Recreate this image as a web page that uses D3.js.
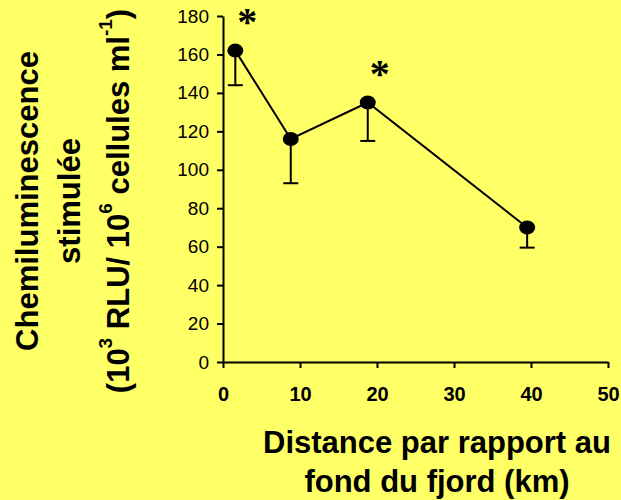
<!DOCTYPE html>
<html>
<head>
<meta charset="utf-8">
<script src="https://cdn.jsdelivr.net/npm/d3@7/dist/d3.min.js"></script>
<style>
  html, body { margin: 0; padding: 0; background: #FFFF66; }
  svg { display: block; }
  text { font-family: Arial, "Liberation Sans", sans-serif; fill: #000; }
</style>
</head>
<body>
<svg id="chart" width="621" height="500"></svg>
<script>
// ---- data ----
const distances = [1.6, 8.8, 18.8, 39.5];          // km
const values = [162, 116, 135, 70];                 // 10^3 RLU / 10^6 cellules ml^-1
const errors = [18, 23, 20, 10.5];                  // lower error bar
const significant = ["*", "", "*", ""];
const xTicks = [0, 10, 20, 30, 40, 50];
const yTicks = [0, 20, 40, 60, 80, 100, 120, 140, 160, 180];
const xTitleLines = ["Distance par rapport au", "fond du fjord (km)"];

const data = distances.map((d, i) => ({ x: d, y: values[i], e: errors[i], s: significant[i] }));

const svg = d3.select("#chart");
svg.append("rect").attr("width", 621).attr("height", 500).attr("fill", "#FFFF66");

const x = d3.scaleLinear().domain([0, 50]).range([223, 608]);
const y = d3.scaleLinear().domain([0, 180]).range([362, 16]);

// y axis
const yAxis = svg.append("g")
  .attr("transform", `translate(${x(0)},0)`)
  .call(d3.axisLeft(y).tickValues(yTicks).tickSize(6).tickPadding(8).tickSizeOuter(0));
yAxis.select(".domain").attr("stroke", "#000").attr("stroke-width", 2);
yAxis.selectAll(".tick line").attr("stroke", "#000").attr("stroke-width", 2);
yAxis.selectAll(".tick text")
  .style("font-family", "Arial, 'Liberation Sans', sans-serif")
  .style("font-size", "19px");

// x axis
const xAxis = svg.append("g")
  .attr("transform", `translate(0,${y(0)})`)
  .call(d3.axisBottom(x).tickValues(xTicks).tickSize(6).tickSizeOuter(0));
xAxis.select(".domain").attr("stroke", "#000").attr("stroke-width", 2);
xAxis.selectAll(".tick line").attr("stroke", "#000").attr("stroke-width", 2);
xAxis.selectAll(".tick text")
  .attr("y", 39).attr("dy", null)
  .style("font-family", "Arial, 'Liberation Sans', sans-serif")
  .style("font-size", "20px")
  .style("font-weight", "bold");

// error bars (lower only)
const eb = svg.append("g").attr("stroke", "#000").attr("stroke-width", 2);
eb.selectAll("line.v").data(data).join("line")
  .attr("x1", d => x(d.x)).attr("x2", d => x(d.x))
  .attr("y1", d => y(d.y)).attr("y2", d => y(d.y - d.e));
eb.selectAll("line.c").data(data).join("line")
  .attr("x1", d => x(d.x) - 7.5).attr("x2", d => x(d.x) + 7.5)
  .attr("y1", d => y(d.y - d.e)).attr("y2", d => y(d.y - d.e));

// line
svg.append("path").datum(data)
  .attr("fill", "none").attr("stroke", "#000").attr("stroke-width", 2)
  .attr("d", d3.line().x(d => x(d.x)).y(d => y(d.y)));

// markers
svg.selectAll("ellipse.pt").data(data).join("ellipse")
  .attr("cx", d => x(d.x)).attr("cy", d => y(d.y))
  .attr("rx", 8).attr("ry", 7).attr("fill", "#000");

// significance asterisks
svg.selectAll("text.sig").data(data.filter(d => d.s)).join("text")
  .attr("x", d => x(d.x) + 12).attr("y", d => y(d.y) - 40)
  .attr("text-anchor", "middle")
  .attr("dy", "0.62em")
  .style("font-family", "'Liberation Serif', 'Times New Roman', serif")
  .style("font-size", "40px")
  .style("font-weight", "bold")
  .text(d => d.s);

// x title
svg.selectAll("text.xt").data(xTitleLines).join("text")
  .attr("x", 437).attr("y", (d, i) => 453 + i * 39)
  .attr("text-anchor", "middle")
  .style("font-size", "31px").style("font-weight", "bold")
  .text(d => d);

// y title (rotated, three lines)
const yt = svg.append("g").style("font-size", "31px").style("font-weight", "bold");
function yLine(xPos) {
  return yt.append("text")
    .attr("transform", `translate(${xPos},201) rotate(-90)`)
    .attr("text-anchor", "middle");
}
yLine(38).text("Chemiluminescence");
yLine(80).text("stimulée");
const l3 = yLine(129);
l3.append("tspan").text("(10");
l3.append("tspan").attr("dy", -17).style("font-size", "19px").text("3");
l3.append("tspan").attr("dy", 17).text(" RLU/ 10");
l3.append("tspan").attr("dy", -17).style("font-size", "19px").text("6");
l3.append("tspan").attr("dy", 17).text(" cellules ml");
l3.append("tspan").attr("dy", -17).style("font-size", "19px").text("-1");
l3.append("tspan").attr("dy", 17).text(")");
</script>
</body>
</html>
